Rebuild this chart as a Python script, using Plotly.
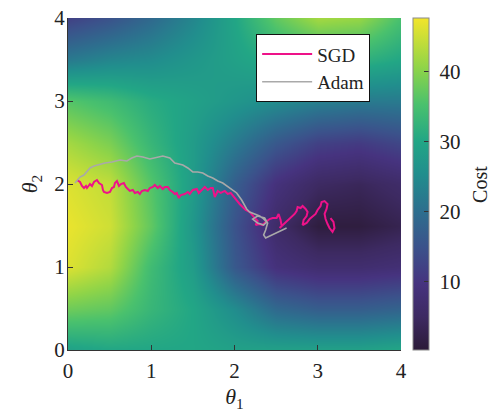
import plotly.graph_objects as go

# Cost surface sampled on a regular grid over (theta1, theta2)
theta1_grid = [0.0, 0.5, 1.0, 1.5, 2.0, 2.5, 3.0, 3.5, 4.0]
theta2_grid = [0.0, 0.5, 1.0, 1.5, 2.0, 2.5, 3.0, 3.5, 4.0]
cost = [
    [29, 30, 30, 30, 29, 29, 29, 29, 30],   # theta2 = 0.0
    [38, 37, 33, 30, 25, 19, 17, 17, 18],   # theta2 = 0.5
    [46, 43, 34, 28, 16, 9, 7, 7, 8],       # theta2 = 1.0
    [47, 45, 37, 27, 15, 6, 1, 1, 3],       # theta2 = 1.5
    [46, 44, 36, 28, 17, 9, 5, 4, 6],       # theta2 = 2.0
    [42, 39, 33, 28, 22, 16, 12, 11, 13],   # theta2 = 2.5
    [36, 34, 31, 29, 27, 25, 23, 22, 22],   # theta2 = 3.0
    [22, 24, 25, 27, 29, 31, 32, 32, 30],   # theta2 = 3.5
    [12, 15, 19, 24, 30, 37, 42, 41, 35],   # theta2 = 4.0
]

# Optimiser trajectories
sgd_theta1 = [0.108, 0.144, 0.168, 0.192, 0.216, 0.228, 0.264, 0.288, 0.312, 0.348,
              0.372, 0.408, 0.420, 0.432, 0.468, 0.504, 0.528, 0.552, 0.564, 0.588,
              0.612, 0.636, 0.671, 0.695, 0.719, 0.743, 0.779, 0.803, 0.839, 0.863,
              0.887, 0.923, 0.959, 0.983, 1.019, 1.043, 1.079, 1.103, 1.139, 1.163,
              1.199, 1.223, 1.259, 1.283, 1.307, 1.331, 1.355, 1.403, 1.439, 1.463,
              1.499, 1.547, 1.571, 1.607, 1.643, 1.679, 1.715, 1.739, 1.763, 1.799,
              1.835, 1.883, 1.918, 1.954, 1.990, 2.026, 2.062, 2.098, 2.134, 2.182,
              2.218, 2.254, 2.278, 2.254, 2.302, 2.338, 2.374, 2.422, 2.458, 2.506,
              2.530, 2.554, 2.566, 2.542, 2.602, 2.638, 2.686, 2.722, 2.746, 2.758,
              2.794, 2.818, 2.854, 2.878, 2.866, 2.830, 2.818, 2.866, 2.902, 2.938,
              2.974, 2.998, 3.034, 3.046, 3.082, 3.118, 3.106, 3.082, 3.094, 3.118,
              3.141, 3.177, 3.201, 3.189, 3.153]
sgd_theta2 = [2.048, 2.024, 1.976, 1.952, 1.976, 1.952, 2.000, 1.976, 2.024, 2.048,
              2.012, 1.988, 1.928, 1.904, 1.892, 1.904, 1.952, 1.964, 2.012, 2.036,
              1.976, 2.000, 2.012, 1.964, 1.940, 1.916, 1.928, 1.892, 1.904, 1.880,
              1.916, 1.928, 1.916, 1.952, 1.964, 1.988, 1.952, 1.976, 1.940, 1.964,
              1.964, 1.928, 1.904, 1.880, 1.892, 1.831, 1.867, 1.880, 1.904, 1.880,
              1.928, 1.940, 1.892, 1.928, 1.964, 1.928, 1.952, 1.952, 1.843, 1.916,
              1.892, 1.916, 1.880, 1.892, 1.843, 1.807, 1.759, 1.723, 1.687, 1.663,
              1.614, 1.578, 1.554, 1.506, 1.518, 1.506, 1.542, 1.578, 1.590, 1.590,
              1.639, 1.566, 1.494, 1.470, 1.518, 1.566, 1.614, 1.639, 1.675, 1.723,
              1.711, 1.735, 1.699, 1.663, 1.614, 1.566, 1.506, 1.530, 1.578, 1.614,
              1.639, 1.687, 1.735, 1.783, 1.795, 1.759, 1.699, 1.639, 1.578, 1.518,
              1.470, 1.422, 1.470, 1.542, 1.590]

adam_theta1 = [0.084, 0.120, 0.144, 0.192, 0.228, 0.264, 0.312, 0.348, 0.396, 0.444,
               0.528, 0.624, 0.707, 0.767, 0.827, 0.899, 0.983, 1.067, 1.139, 1.223,
               1.283, 1.379, 1.439, 1.499, 1.559, 1.619, 1.679, 1.739, 1.799, 1.859,
               1.942, 2.026, 2.086, 2.146, 2.182, 2.242, 2.302, 2.338, 2.386, 2.350,
               2.278, 2.218, 2.278, 2.362, 2.398, 2.374, 2.350, 2.374, 2.446, 2.518,
               2.602, 2.626]
adam_theta2 = [2.012, 2.048, 2.084, 2.108, 2.145, 2.193, 2.217, 2.229, 2.241, 2.253,
               2.265, 2.289, 2.277, 2.313, 2.337, 2.325, 2.301, 2.325, 2.337, 2.313,
               2.253, 2.229, 2.193, 2.145, 2.145, 2.133, 2.096, 2.072, 2.036, 2.012,
               1.952, 1.892, 1.807, 1.699, 1.663, 1.639, 1.614, 1.590, 1.542, 1.506,
               1.530, 1.578, 1.614, 1.590, 1.530, 1.446, 1.386, 1.349, 1.386, 1.422,
               1.458, 1.470]

cbar_ticks = [10, 20, 30, 40]
axis_ticks = [0, 1, 2, 3, 4]

FONT = "Liberation Serif"
INK = "#222222"
TICK_SIZE = 21

colorscale = [
    [0.00, "#2c1b38"],
    [0.10, "#3d2a62"],
    [0.20, "#46337f"],
    [0.31, "#3b528b"],
    [0.42, "#2d6f8e"],
    [0.53, "#218e8d"],
    [0.63, "#22a685"],
    [0.74, "#4ac16d"],
    [0.85, "#8fd448"],
    [1.00, "#f2e52b"],
]

fig = go.Figure()

fig.add_trace(go.Heatmap(
    x=theta1_grid, y=theta2_grid, z=cost,
    zsmooth="best",
    colorscale=colorscale, zmin=0.2, zmax=47.6,
    showscale=True, showlegend=False, hoverinfo="skip",
    colorbar=dict(
        x=1.036, xanchor="left", xpad=0, y=0.5, yanchor="middle", ypad=0,
        len=1.0, thickness=16,
        outlinewidth=1, outlinecolor="#8a8a8a",
        ticks="inside", ticklen=5, tickcolor="#333333",
        tickvals=cbar_ticks, ticktext=["\u2005" + str(t) for t in cbar_ticks],
        tickfont=dict(family=FONT, size=TICK_SIZE, color=INK),
    ),
))

fig.add_trace(go.Scatter(
    x=sgd_theta1, y=sgd_theta2, mode="lines", name="SGD",
    line=dict(color="#ee1289", width=2.0),
))
fig.add_trace(go.Scatter(
    x=adam_theta1, y=adam_theta2, mode="lines", name="Adam",
    line=dict(color="#a9a9a9", width=1.6),
))

axis_common = dict(
    range=[0, 4], tickvals=axis_ticks, ticktext=[str(t) for t in axis_ticks],
    ticks="inside", ticklen=5, tickcolor="#333333",
    showline=True, linecolor="#333333", linewidth=1, mirror=False,
    showgrid=False, zeroline=False, automargin=False,
    tickfont=dict(family=FONT, size=TICK_SIZE, color=INK),
)

fig.update_layout(
    width=492, height=412,
    margin=dict(l=68, r=91, t=18, b=62, autoexpand=False),
    paper_bgcolor="white", plot_bgcolor="white",
    font=dict(family=FONT, color=INK),
    xaxis=dict(axis_common, ticklabelstandoff=2,
               title=dict(text="<i>θ</i><sub>1</sub>",
                          font=dict(family=FONT, size=22, color=INK), standoff=8)),
    yaxis=dict(axis_common, ticklabelstandoff=-2,
               title=dict(text="<i>θ</i><sub>2</sub>",
                          font=dict(family=FONT, size=22, color=INK), standoff=10)),
    legend=dict(
        x=0.565, y=0.951, xanchor="left", yanchor="top",
        bgcolor="white", bordercolor="#111111", borderwidth=1,
        font=dict(family=FONT, size=19, color=INK),
        tracegroupgap=0, itemwidth=50,
    ),
    annotations=[dict(
        text="Cost", textangle=-90, showarrow=False,
        xref="paper", yref="paper", x=1.237, y=0.5, xanchor="center", yanchor="middle",
        font=dict(family=FONT, size=20, color=INK),
    )],
)

fig.write_html("out.html")
